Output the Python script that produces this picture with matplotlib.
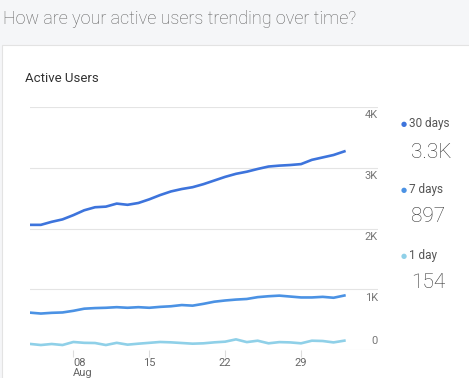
import numpy as np
import pandas as pd
import matplotlib
matplotlib.use("Agg")
import matplotlib.pyplot as plt
from matplotlib.patches import Rectangle

plt.rcParams.update({
    "font.family": ["Roboto", "DejaVu Sans"],
})

# ── Data ────────────────────────────────────────────────────────────
dates = pd.date_range("2023-08-04", "2023-09-02", freq="D")

users_30d = [2060, 2060, 2110, 2150, 2220, 2300, 2350, 2360, 2410, 2390,
             2420, 2480, 2550, 2610, 2650, 2680, 2730, 2790, 2850, 2900,
             2935, 2980, 3020, 3035, 3045, 3060, 3130, 3170, 3210, 3270]
users_7d = [615, 600, 612, 618, 645, 680, 690, 695, 705, 695,
            705, 695, 710, 720, 740, 730, 760, 795, 815, 830,
            840, 870, 885, 895, 880, 865, 865, 875, 860, 897]
users_1d = [100, 82, 99, 82, 132, 118, 115, 82, 118, 88,
            104, 118, 132, 126, 115, 104, 110, 126, 137, 175,
            130, 153, 110, 130, 125, 110, 153, 148, 125, 154]

series_names = ["30 days", "7 days", "1 day"]
series_totals = ["3.3K", "897", "154"]
series_colors = ["#3d74dc", "#4b92e4", "#8fd0e8"]

y_ticks = [0, 1000, 2000, 3000, 4000]
y_tick_labels = ["0", "1K", "2K", "3K", "4K"]
x_ticks = pd.to_datetime(["2023-08-08", "2023-08-15", "2023-08-22", "2023-08-29"])
x_tick_labels = ["08\nAug", "15", "22", "29"]

# ── Figure ──────────────────────────────────────────────────────────
W, H = 469, 378
fig = plt.figure(figsize=(W / 100, H / 100), dpi=100)
fig.patch.set_facecolor("#f5f6f8")

# white card (behind the axes)
fig.patches.append(Rectangle((2 / W, -0.01), 1, 1.01 - 45 / H, transform=fig.transFigure,
                             facecolor="white", edgecolor="#e3e3e3", linewidth=0.8,
                             zorder=-5))

fig.text(3 / W, 1 - 19 / H, "How are your active users trending over time?",
         fontsize=13, color="#606060", fontweight="light", va="center", ha="left")
fig.text(25 / W, 1 - 78 / H, "Active Users",
         fontsize=9.5, color="#333333", va="center", ha="left")

ax = fig.add_axes([30 / W, 1 - 350 / H, 348 / W, 243 / H])
ax.set_facecolor("none")

for vals, color in zip([users_30d, users_7d, users_1d], series_colors):
    ax.plot(dates, vals, color=color, linewidth=1.9, solid_joinstyle="round")

ax.set_xlim(dates[0], dates[0] + pd.Timedelta(days=32.1))
ax.set_ylim(0, 4000)
for s in ax.spines.values():
    s.set_visible(False)

ax.set_yticks(y_ticks)
ax.set_yticklabels([])
ax.tick_params(axis="y", length=0)
ax.grid(axis="y", color="#e4e4e4", linewidth=0.8)
ax.set_axisbelow(True)

for v, lab in zip(y_ticks, y_tick_labels):
    if v == 0:
        ax.annotate(lab, xy=(1, v), xycoords=("axes fraction", "data"),
                    xytext=(0, 3), textcoords="offset points",
                    ha="right", va="bottom", fontsize=8, color="#777777")
    else:
        ax.annotate(lab, xy=(1, v), xycoords=("axes fraction", "data"),
                    xytext=(0, -2.5), textcoords="offset points",
                    ha="right", va="top", fontsize=8, color="#777777")

ax.set_xticks(x_ticks)
ax.set_xticklabels(x_tick_labels, fontsize=8, color="#666666", linespacing=0.95)
ax.tick_params(axis="x", length=5, width=0.8, color="#dddddd", pad=1)
first = ax.get_xticklabels()[0]
first.set_ha("left")
first.set_multialignment("left")

# ── Right-hand summary ─────────────────────────────────────────────
label_y = [124, 190, 256]
value_y = [152, 217, 282]
for name, total, color, ly, vy in zip(series_names, series_totals, series_colors,
                                      label_y, value_y):
    fig.text(404 / W, 1 - ly / H, "\u25CF", fontsize=5, color=color,
             ha="center", va="center", family="DejaVu Sans")
    fig.text(409 / W, 1 - ly / H, name, fontsize=8.5, color="#555555",
             ha="left", va="center")
    fig.text(411 / W, 1 - vy / H, total, fontsize=15, color="#333333",
             fontweight="light", ha="left", va="center")

fig.savefig("out.png", dpi=100, facecolor=fig.get_facecolor())
